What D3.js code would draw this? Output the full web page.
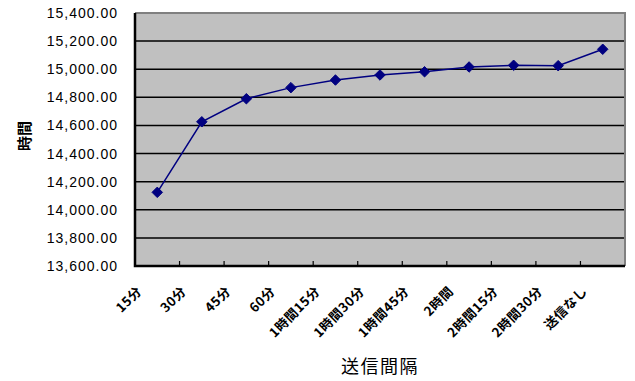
<!DOCTYPE html>
<html>
<head>
<meta charset="utf-8">
<script src="https://cdn.jsdelivr.net/npm/d3@7/dist/d3.min.js"></script>
<style>
  html, body { margin: 0; padding: 0; background: #fff; }
  svg { display: block; }
</style>
</head>
<body>
<svg id="chart" width="635" height="381"></svg>
<script>
// Send interval categories and measured times
const categories = ["15分", "30分", "45分", "60分", "1時間15分", "1時間30分", "1時間45分", "2時間", "2時間15分", "2時間30分", "送信なし"];
const values = [14124, 14626, 14790, 14869, 14923, 14959, 14982, 15016, 15028, 15025, 15142];
const yTicks = [13600, 13800, 14000, 14200, 14400, 14600, 14800, 15000, 15200, 15400];
const yTitle = "時間";
const xTitle = "送信間隔";

const svg = d3.select("#chart");
const plot = { left: 135, right: 625, top: 13, bottom: 266 };

const x = d3.scaleBand().domain(categories).range([plot.left, plot.right]).padding(0);
const y = d3.scaleLinear().domain([13600, 15400]).range([plot.bottom, plot.top]);

const jp = "'Noto Sans CJK JP', 'Noto Sans', sans-serif";
const latin = "'Liberation Sans', Arial, sans-serif";

// Plot area background
svg.append("rect")
  .attr("x", plot.left).attr("y", plot.top)
  .attr("width", plot.right - plot.left).attr("height", plot.bottom - plot.top)
  .attr("fill", "#c0c0c0");

// Horizontal gridlines
svg.append("g")
  .selectAll("line")
  .data(yTicks.filter(t => t > 13600 && t < 15400))
  .join("line")
  .attr("x1", plot.left).attr("x2", plot.right)
  .attr("y1", d => y(d)).attr("y2", d => y(d))
  .attr("stroke", "#000").attr("stroke-width", 1.5);

// Top and right border
svg.append("path")
  .attr("d", `M${plot.left},${plot.top}H${plot.right}V${plot.bottom}`)
  .attr("fill", "none").attr("stroke", "#808080").attr("stroke-width", 2);

// Y axis with tick labels
const yAxis = d3.axisLeft(y).tickValues(yTicks).tickFormat(d3.format(",.2f")).tickSize(0).tickPadding(17);
const gy = svg.append("g").attr("transform", `translate(${plot.left},0)`).call(yAxis);
gy.select(".domain").remove();
gy.selectAll("text")
  .attr("font-family", latin).attr("font-size", 14)
  .attr("letter-spacing", 1)
  .attr("fill", "#000");

// X axis: inside tick marks at category boundaries
const boundaries = categories.slice(1).map(c => x(c));
svg.append("g")
  .selectAll("line")
  .data(boundaries)
  .join("line")
  .attr("x1", d => d).attr("x2", d => d)
  .attr("y1", plot.bottom).attr("y2", plot.bottom - 5)
  .attr("stroke", "#000").attr("stroke-width", 1.2);

// Left and bottom axis lines
svg.append("path")
  .attr("d", `M${plot.left},${plot.top}V${plot.bottom}H${plot.right}`)
  .attr("fill", "none").attr("stroke", "#000").attr("stroke-width", 2.5);

// Rotated category labels
svg.append("g")
  .selectAll("text")
  .data(categories)
  .join("text")
  .attr("transform", d => `translate(${x(d) + x.bandwidth() / 2 - 18},289) rotate(-45)`)
  .attr("text-anchor", "end")
  .attr("dy", "0.35em")
  .attr("font-family", jp).attr("font-size", 13).attr("font-weight", "bold")
  .attr("letter-spacing", 0.5)
  .attr("fill", "#000")
  .text(d => d);

// Data line
const cx = d => x(d) + x.bandwidth() / 2;
const line = d3.line().x((d, i) => cx(categories[i])).y(d => y(d));
svg.append("path")
  .datum(values)
  .attr("d", line)
  .attr("fill", "none").attr("stroke", "#000080").attr("stroke-width", 1.5);

// Diamond markers
const diamond = d3.symbol().type(d3.symbolDiamond2 || d3.symbolDiamond).size(70);
svg.append("g")
  .selectAll("path")
  .data(values)
  .join("path")
  .attr("transform", (d, i) => `translate(${cx(categories[i])},${y(d)})`)
  .attr("d", diamond)
  .attr("fill", "#000080").attr("stroke", "#000080").attr("stroke-width", 1);

// Axis titles
svg.append("text")
  .attr("transform", `translate(25,136) rotate(-90)`)
  .attr("text-anchor", "middle").attr("dy", "0.35em")
  .attr("font-family", jp).attr("font-size", 15).attr("font-weight", "bold")
  .attr("fill", "#000")
  .text(yTitle);

svg.append("text")
  .attr("x", (plot.left + plot.right) / 2).attr("y", 367)
  .attr("text-anchor", "middle").attr("dy", "0.35em")
  .attr("font-family", jp).attr("font-size", 18)
  .attr("letter-spacing", 1.5)
  .attr("fill", "#000")
  .text(xTitle);
</script>
</body>
</html>
